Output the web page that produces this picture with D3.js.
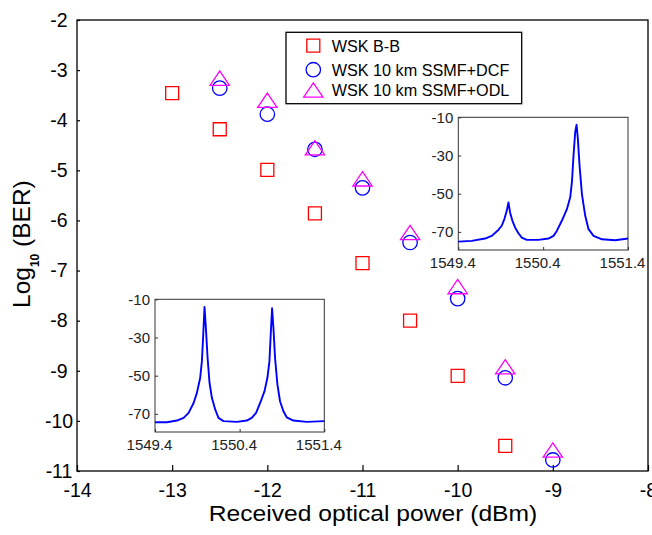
<!DOCTYPE html>
<html>
<head>
<meta charset="utf-8">
<script src="https://cdn.jsdelivr.net/npm/d3@7"></script>
<style>
  body { margin: 0; background: #fff; }
  svg { display: block; font-family: "Liberation Sans", Arial, sans-serif; }
</style>
</head>
<body>
<svg id="chart" width="652" height="535"></svg>
<script>
// ---- BER measurements (log10 BER vs received optical power, dBm) ----
const powerBB    = [-13, -12.5, -12, -11.5, -11, -10.5, -10, -9.5];
const berBB      = [-3.46, -4.18, -4.99, -5.86, -6.85, -8.0, -9.1, -10.5];
const powerFiber = [-12.5, -12, -11.5, -11, -10.5, -10, -9.5, -9];
const berDCF     = [-3.36, -3.88, -4.58, -5.35, -6.44, -7.56, -9.14, -10.78];
const berODL     = [-3.16, -3.6, -4.55, -5.17, -6.24, -7.32, -8.92, -10.58];

const xTicks = [-14, -13, -12, -11, -10, -9, -8];
const yTicks = [-2, -3, -4, -5, -6, -7, -8, -9, -10, -11];
const legendLabels = ["WSK B-B", "WSK 10 km SSMF+DCF", "WSK 10 km SSMF+ODL"];

// ---- optical spectra (wavelength nm, power dBm) ----
const waveA  = [1549.400, 1549.557, 1549.715, 1549.794, 1549.872, 1549.912, 1549.943, 1549.971, 1549.991,
                1550.010, 1550.038, 1550.069, 1550.109, 1550.148, 1550.207, 1550.345, 1550.463, 1550.522,
                1550.561, 1550.620, 1550.680, 1550.719, 1550.739, 1550.758, 1550.778, 1550.794, 1550.809,
                1550.829, 1550.857, 1550.896, 1550.935, 1550.994, 1551.093, 1551.250, 1551.400];
const powerA = [-75.1, -74.7, -73.5, -72.1, -69.0, -66.8, -63.3, -59.0, -54.6,
                -59.8, -64.2, -67.7, -70.7, -73.0, -74.2, -74.2, -73.5, -72.1,
                -69.5, -64.2, -58.1, -51.9, -44.0, -30.0, -17.7, -13.9, -21.2,
                -35.3, -50.2, -61.6, -68.6, -72.1, -73.9, -74.4, -73.5];

const waveB  = [1549.400, 1549.541, 1549.659, 1549.738, 1549.797, 1549.856, 1549.895, 1549.934, 1549.954,
                1549.970, 1549.985, 1550.001, 1550.021, 1550.044, 1550.072, 1550.111, 1550.150, 1550.209,
                1550.367, 1550.484, 1550.543, 1550.594, 1550.642, 1550.693, 1550.728, 1550.752, 1550.767,
                1550.783, 1550.799, 1550.818, 1550.846, 1550.877, 1550.917, 1550.956, 1551.035, 1551.192, 1551.400];
const powerB = [-74.4, -74.4, -73.5, -72.1, -69.5, -64.3, -59.0, -51.1, -42.4,
                -28.4, -14.0, -24.9, -40.6, -53.7, -61.6, -67.7, -72.1, -73.8,
                -74.2, -73.5, -72.1, -69.5, -64.3, -58.2, -51.1, -42.4, -28.4,
                -14.7, -24.9, -40.6, -54.6, -63.4, -68.6, -71.8, -73.5, -74.2, -73.8];

const specXTicks = [1549.4, 1550.4, 1551.4];
const specYTicks = [-10, -30, -50, -70];

// plain hyphen-minus labels
const intLabel = d => String(d);
const oneDecimal = d => d.toFixed(1);

// ---- layout ----
const svg = d3.select("#chart");
const plot = { left: 77, right: 648, top: 20, bottom: 471 };

const x = d3.scaleLinear().domain([-14, -8]).range([plot.left, plot.right]);
const y = d3.scaleLinear().domain([-11, -2]).range([plot.bottom, plot.top]);

// axes with inward ticks
const gx = svg.append("g")
  .attr("transform", `translate(0,${plot.bottom})`)
  .call(d3.axisBottom(x).tickValues(xTicks).tickSize(-6).tickPadding(12).tickFormat(intLabel));
const gy = svg.append("g")
  .attr("transform", `translate(${plot.left},0)`)
  .call(d3.axisLeft(y).tickValues(yTicks).tickSize(-3).tickFormat(intLabel));
[gx, gy].forEach(g => {
  g.select(".domain").remove();
  g.selectAll(".tick line").attr("stroke", "#000").attr("stroke-width", 1.2);
  g.selectAll(".tick text").attr("fill", "#000").style("font-size", "19.5px")
   .style("font-family", "'Liberation Sans', Arial, sans-serif");
});
gy.selectAll(".tick text").attr("text-anchor", "middle").attr("x", 59 - plot.left);

// frame
svg.append("rect")
  .attr("x", plot.left).attr("y", plot.top)
  .attr("width", plot.right - plot.left).attr("height", plot.bottom - plot.top)
  .attr("fill", "none").attr("stroke", "#000").attr("stroke-width", 1.3);

// axis titles
svg.append("text")
  .attr("transform", "translate(373,520.5) scale(1.12,1)")
  .attr("text-anchor", "middle")
  .style("font-size", "22px")
  .text("Received optical power (dBm)");

const yTitle = svg.append("text")
  .attr("transform", "translate(29.5,308) rotate(-90)")
  .attr("text-anchor", "start")
  .style("font-size", "24.5px");
yTitle.append("tspan").text("Log");
yTitle.append("tspan").attr("dy", 9).style("font-size", "12px").style("font-weight", "bold").text("10");
yTitle.append("tspan").attr("dy", -9).text("\u00a0(BER)");

// marker shapes
const triangleShape = {
  draw(ctx) {
    const w = 9.65, h = 7.15;
    ctx.moveTo(0, -h); ctx.lineTo(w, h); ctx.lineTo(-w, h); ctx.closePath();
  }
};
const markers = [
  { type: d3.symbolSquare, size: 169, color: "#ff0000" },
  { type: d3.symbolCircle, size: 163, color: "#0000ff" },
  { type: triangleShape,   size: 1,   color: "#ff00ff" }
];

const series = [
  { px: powerBB,    py: berBB,  m: markers[0] },
  { px: powerFiber, py: berDCF, m: markers[1] },
  { px: powerFiber, py: berODL, m: markers[2] }
];

series.forEach(s => {
  svg.append("g").selectAll("path")
    .data(d3.zip(s.px, s.py))
    .join("path")
    .attr("transform", d => `translate(${x(d[0])},${y(d[1])})`)
    .attr("d", d3.symbol().type(s.m.type).size(s.m.size))
    .attr("fill", "none").attr("stroke", s.m.color).attr("stroke-width", 1.3);
});

// legend
const legend = svg.append("g");
legend.append("rect")
  .attr("x", 286).attr("y", 32.3).attr("width", 235.7).attr("height", 71.4)
  .attr("fill", "#fff").attr("stroke", "#000").attr("stroke-width", 1.3);
const legendRows = [45.7, 69.7, 90];
legendLabels.forEach((lab, i) => {
  legend.append("path")
    .attr("transform", `translate(313.3,${legendRows[i]})`)
    .attr("d", d3.symbol().type(markers[i].type).size(markers[i].size))
    .attr("fill", "none").attr("stroke", markers[i].color).attr("stroke-width", 1.3);
  legend.append("text")
    .attr("x", 331.7).attr("y", legendRows[i]).attr("dy", "0.36em")
    .style("font-size", "16.2px")
    .text(lab);
});

// spectrum insets
function drawInset(box, wave, power) {
  const g = svg.append("g");
  const sx = d3.scaleLinear().domain([1549.4, 1551.4]).range([box.left, box.right]);
  const sy = d3.scaleLinear().domain([-79.5, -10]).range([box.bottom, box.top]);

  g.append("rect")
    .attr("x", box.left).attr("y", box.top)
    .attr("width", box.right - box.left).attr("height", box.bottom - box.top)
    .attr("fill", "#fff").attr("stroke", "#333").attr("stroke-width", 1);

  const ax = g.append("g").attr("transform", `translate(0,${box.bottom})`)
    .call(d3.axisBottom(sx).tickValues(specXTicks).tickSize(-3).tickPadding(7).tickFormat(oneDecimal));
  const ay = g.append("g").attr("transform", `translate(${box.left},0)`)
    .call(d3.axisLeft(sy).tickValues(specYTicks).tickSize(-3).tickPadding(5).tickFormat(intLabel));
  [ax, ay].forEach(a => {
    a.select(".domain").remove();
    a.selectAll(".tick line").attr("stroke", "#333");
    a.selectAll(".tick text").attr("fill", "#222").style("font-size", "15px")
     .style("font-family", "'Liberation Sans', Arial, sans-serif");
  });
  ax.selectAll(".tick text").attr("x", -6);

  g.append("path")
    .datum(d3.zip(wave, power))
    .attr("d", d3.line().x(d => sx(d[0])).y(d => sy(d[1])))
    .attr("fill", "none").attr("stroke", "#0000ff").attr("stroke-width", 1.9)
    .attr("stroke-linejoin", "round");
}

drawInset({ left: 458.3, right: 628, top: 117.3, bottom: 250 }, waveA, powerA);
drawInset({ left: 155, right: 324.3, top: 299.3, bottom: 432 }, waveB, powerB);
</script>
</body>
</html>
